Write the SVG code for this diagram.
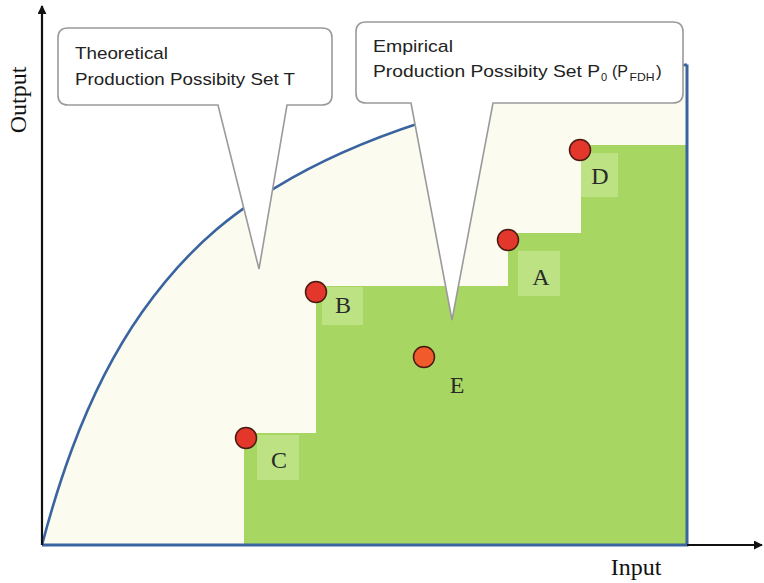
<svg xmlns="http://www.w3.org/2000/svg" width="764" height="583" viewBox="0 0 764 583">
<defs>
<style>
.lbl{font-family:"Liberation Serif","Times New Roman",serif;font-size:24px;fill:#2a2a2a;text-anchor:middle}
.ax{font-family:"Liberation Serif","Times New Roman",serif;font-size:24px;fill:#111;text-anchor:middle}
.co{font-family:"Liberation Sans",Arial,sans-serif;font-size:17px;fill:#222}
.sub{font-family:"Liberation Sans",Arial,sans-serif;font-size:11px;fill:#222}
.callout{fill:#fff;stroke:#9a9a9a;stroke-width:1.6}
.dot{fill:#e2372a;stroke:#4a1a12;stroke-width:1.5}
.lbox{fill:#bce283}
</style>
<marker id="arr" viewBox="0 0 10 10" refX="9" refY="5" markerWidth="9" markerHeight="9" markerUnits="userSpaceOnUse" orient="auto">
<path d="M0,0 L10,5 L0,10 Z" fill="#111"/>
</marker>
</defs>
<rect width="764" height="583" fill="#fff"/>
<g id="theoretical-set">
<path d="M42,545 C52,506.85 62,475.86 72,449 C95.33,386.33 118.67,345.43 142,312.3 C192,241.3 242,206.07 292,177.8 C342,149.53 392,130.99 442,115.9 C523.67,91.26 605.33,76.47 687,64.6 L687,545 Z" fill="#fcfbf0"/>
</g>
<g id="empirical-set">
<path d="M244,545 L244,433 L316,433 L316,286 L508,286 L508,233 L581,233 L581,145 L687,145 L687,545 Z" fill="#a7d762"/>
</g>
<g id="frontier">
<path d="M42,545 C52,506.85 62,475.86 72,449 C95.33,386.33 118.67,345.43 142,312.3 C192,241.3 242,206.07 292,177.8 C342,149.53 392,130.99 442,115.9 C523.67,91.26 605.33,76.47 687,64.6" fill="none" stroke="#3a64a0" stroke-width="2.6"/>
<path d="M687,64.6 L687,545 L42,545" fill="none" stroke="#3a64a0" stroke-width="3"/>
</g>
<g id="connectors">
<line x1="42" y1="545" x2="42" y2="6" stroke="#111" stroke-width="2.2" marker-end="url(#arr)"/>
<line x1="687" y1="545" x2="762" y2="545" stroke="#111" stroke-width="2.2" marker-end="url(#arr)"/>
</g>
<g id="axis-labels">
<text class="ax" transform="translate(26,100) rotate(-90)">Output</text>
<text class="ax" x="636" y="575">Input</text>
</g>
<g id="point-D">
<rect class="lbox" x="581" y="153" width="37" height="44"/>
<circle class="dot" cx="580" cy="150" r="10.5"/>
<text class="lbl" x="600" y="184">D</text>
</g>
<g id="point-A">
<rect class="lbox" x="518" y="251" width="42" height="45"/>
<circle class="dot" cx="508" cy="240" r="10.5"/>
<text class="lbl" x="541" y="285">A</text>
</g>
<g id="point-B">
<rect class="lbox" x="322" y="287" width="41" height="38"/>
<circle class="dot" cx="316" cy="292" r="10.5"/>
<text class="lbl" x="343" y="313">B</text>
</g>
<g id="point-C">
<rect class="lbox" x="257" y="435" width="42" height="45"/>
<circle class="dot" cx="246" cy="438" r="10.5"/>
<text class="lbl" x="279" y="468">C</text>
</g>
<g id="point-E">
<circle cx="424" cy="357" r="10.5" fill="#f15a2b" stroke="#4a1a12" stroke-width="1.5"/>
<text class="lbl" x="457" y="393">E</text>
</g>
<g id="callout-theoretical">
<path class="callout" d="M68,28 H322 Q332,28 332,38 V95 Q332,105 322,105 H287 L259,269 L218,105 H68 Q58,105 58,95 V38 Q58,28 68,28 Z"/>
<text class="co" x="75" y="59" textLength="93" lengthAdjust="spacingAndGlyphs">Theoretical</text>
<text class="co" x="75" y="85" textLength="220" lengthAdjust="spacingAndGlyphs">Production Possibity Set T</text>
</g>
<g id="callout-empirical">
<path class="callout" d="M366,22 H673 Q683,22 683,32 V93 Q683,103 673,103 H493 L452,320 L411,103 H366 Q356,103 356,93 V32 Q356,22 366,22 Z"/>
<text class="co" x="373" y="52" textLength="80" lengthAdjust="spacingAndGlyphs">Empirical</text>
<text class="co" x="373" y="77" textLength="227" lengthAdjust="spacingAndGlyphs">Production Possibity Set P</text>
<text class="sub" x="601" y="81">0</text>
<text class="co" x="612" y="77" textLength="16" lengthAdjust="spacingAndGlyphs">(P</text>
<text class="sub" x="629.5" y="81" textLength="25" lengthAdjust="spacingAndGlyphs">FDH</text>
<text class="co" x="656" y="77">)</text>
</g>
</svg>
